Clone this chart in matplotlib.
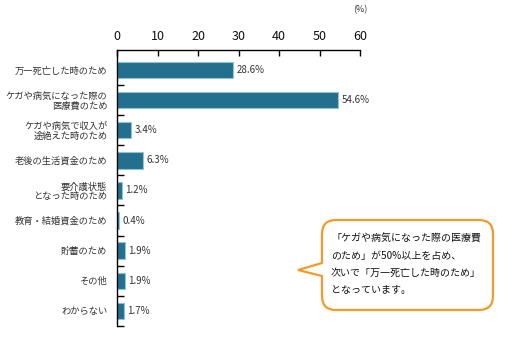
import numpy as np
import matplotlib.pyplot as plt
from matplotlib.path import Path
from matplotlib.patches import PathPatch

plt.rcParams['font.family'] = ['Noto Sans CJK JP', 'DejaVu Sans']

# データ
categories = ['万一死亡した時のため', 'ケガや病気になった際の\n医療費のため', 'ケガや病気で収入が\n途絶えた時のため',
              '老後の生活資金のため', '要介護状態\nとなった時のため', '教育・結婚資金のため',
              '貯蓄のため', 'その他', 'わからない']
values = [28.6, 54.6, 3.4, 6.3, 1.2, 0.4, 1.9, 1.9, 1.7]
xticks = [0, 10, 20, 30, 40, 50, 60]
note_lines = ['「ケガや病気になった際の医療費', 'のため」が50%以上を占め、',
              '次いで「万一死亡した時のため」', 'となっています。']

W, H = 505, 342
fig = plt.figure(figsize=(W / 100, H / 100), dpi=100)
ax = fig.add_axes([117 / W, 1 - 326 / H, (360 - 117) / W, (326 - 50) / H])

y = np.arange(len(categories))
ax.barh(y, values, height=0.55, color='#23708e', edgecolor='#8fc3d3', linewidth=0.8)
for yi, v in zip(y, values):
    ax.text(v + 0.9, yi, f'{v}%', va='center', ha='left', fontsize=7, color='#333333')

ax.set_xlim(0, 60)
ax.set_ylim(8.5, -0.66)
ax.xaxis.tick_top()
ax.set_xticks(xticks)
ax.set_xticklabels([str(t) for t in xticks], fontsize=9, color='#111111')
ax.tick_params(axis='x', direction='in', length=4, width=1, pad=5)
ax.set_yticks(y)
ax.set_yticklabels(categories, fontsize=6.7, color='#333333', linespacing=1.1)
ax.tick_params(axis='y', which='major', length=0, pad=7)
ax.set_yticks(np.arange(0.5, len(categories)), minor=True)
ax.tick_params(axis='y', which='minor', direction='in', length=5, width=1)
for s in ['right', 'bottom']:
    ax.spines[s].set_visible(False)
ax.spines['top'].set_linewidth(1)
ax.spines['left'].set_linewidth(1)
ax.text(60, -1.85, '(%)', ha='center', va='bottom', fontsize=6.5, color='#333333')

# 吹き出し
ov = fig.add_axes([0, 0, 1, 1])
ov.set_xlim(0, W)
ov.set_ylim(H, 0)
ov.axis('off')
x0, x1, y0, y1, r = 322, 493, 220, 310, 14
verts = [(x0 + r, y0), (x1 - r, y0), (x1, y0), (x1, y0 + r), (x1, y1 - r), (x1, y1), (x1 - r, y1),
         (x0 + r, y1), (x0, y1), (x0, y1 - r), (x0, 276), (298, 270), (x0, 263),
         (x0, y0 + r), (x0, y0), (x0 + r, y0)]
codes = [Path.MOVETO, Path.LINETO, Path.CURVE3, Path.CURVE3, Path.LINETO, Path.CURVE3, Path.CURVE3,
         Path.LINETO, Path.CURVE3, Path.CURVE3, Path.LINETO, Path.LINETO, Path.LINETO,
         Path.LINETO, Path.CURVE3, Path.CURVE3]
ov.add_patch(PathPatch(Path(verts, codes), facecolor='white', edgecolor='#f39a2b', linewidth=1.6))
for i, line in enumerate(note_lines):
    ov.text(331, 239 + i * 17, line, ha='left', va='center', fontsize=7.2, color='#111111')

fig.savefig('out.png', dpi=100)
